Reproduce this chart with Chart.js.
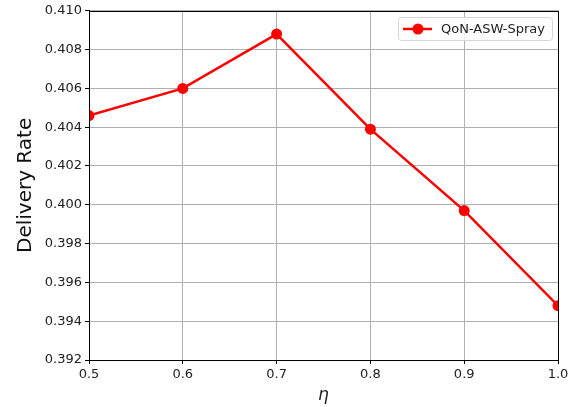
<!DOCTYPE html>
<html>
<head>
<meta charset="utf-8">
<script src="https://cdn.jsdelivr.net/npm/chart.js@4/dist/chart.umd.min.js"></script>
<style>
html,body{margin:0;padding:0;background:#fff;}
#wrap{width:579px;height:407px;position:relative;}
</style>
</head>
<body>
<div id="wrap"><canvas id="c" width="579" height="407"></canvas></div>
<script>
const etaValues = [0.5, 0.6, 0.7, 0.8, 0.9, 1.0];
const deliveryRate = [0.4046, 0.4060, 0.4088, 0.4039, 0.3997, 0.3948];
const seriesLabel = 'QoN-ASW-Spray';
const yTicks = [0.392, 0.394, 0.396, 0.398, 0.400, 0.402, 0.404, 0.406, 0.408, 0.410];
const xTicks = [0.5, 0.6, 0.7, 0.8, 0.9, 1.0];

const FONT = "'DejaVu Sans', sans-serif";

const framePlugin = {
  id: 'frame',
  afterDatasetsDraw(chart) {
    const {ctx, chartArea: a} = chart;
    ctx.save();
    ctx.strokeStyle = '#000';
    ctx.lineWidth = 1;
    ctx.strokeRect(Math.round(a.left) + 0.5, Math.round(a.top) + 0.5,
                   Math.round(a.right - a.left), Math.round(a.bottom - a.top));
    // legend
    const ds = chart.data.datasets[0];
    ctx.font = "13px " + FONT;
    const tw = ctx.measureText(ds.label).width;
    const bw = tw + 50, bh = 23;
    const bx = Math.round(a.right - 6 - bw), by = Math.round(a.top + 6);
    ctx.fillStyle = 'rgba(255,255,255,0.85)';
    ctx.strokeStyle = '#d6d6d6';
    ctx.lineWidth = 1;
    ctx.beginPath();
    if (ctx.roundRect) ctx.roundRect(bx + 0.5, by + 0.5, bw, bh, 3); else ctx.rect(bx + 0.5, by + 0.5, bw, bh);
    ctx.fill(); ctx.stroke();
    const ly = by + bh / 2 + 0.5;
    ctx.strokeStyle = ds.borderColor;
    ctx.lineWidth = 2.5;
    ctx.beginPath(); ctx.moveTo(bx + 5, ly); ctx.lineTo(bx + 34, ly); ctx.stroke();
    ctx.fillStyle = ds.backgroundColor;
    ctx.beginPath(); ctx.arc(bx + 20, ly, 5.5, 0, Math.PI * 2); ctx.fill();
    ctx.fillStyle = '#222';
    ctx.textBaseline = 'middle';
    ctx.fillText(ds.label, bx + 43, ly + 0.5);
    ctx.restore();
  }
};

new Chart(document.getElementById('c'), {
  type: 'line',
  data: {
    datasets: [{
      label: seriesLabel,
      data: etaValues.map((x, i) => ({x: x, y: deliveryRate[i]})),
      borderColor: '#ff0000',
      backgroundColor: '#ff0000',
      borderWidth: 2.5,
      pointRadius: 5.5,
      pointHoverRadius: 5.5,
      pointBorderWidth: 0,
      tension: 0,
      clip: 0
    }]
  },
  options: {
    responsive: false,
    animation: false,
    devicePixelRatio: 1,
    layout: {padding: {left: 8, top: 10, right: 21, bottom: 0}},
    plugins: {legend: {display: false}, tooltip: {enabled: false}},
    scales: {
      x: {
        type: 'linear', min: 0.5, max: 1.0,
        afterBuildTicks: s => { s.ticks = xTicks.map(v => ({value: v})); },
        afterFit: s => { s.height = 47; },
        ticks: {
          color: '#222', font: {family: FONT, size: 13}, padding: 3,
          maxRotation: 0,
          callback: v => v.toFixed(1)
        },
        grid: {color: '#b0b0b0', lineWidth: 1, tickLength: 4, tickColor: '#000', drawOnChartArea: true},
        border: {color: '#000', width: 1},
        title: {display: true, text: 'η', color: '#222', font: {family: FONT, size: 17, style: 'italic'}, padding: {top: 0, bottom: 1}}
      },
      y: {
        type: 'linear', min: 0.392, max: 0.410,
        afterBuildTicks: s => { s.ticks = yTicks.map(v => ({value: v})); },
        afterFit: s => { s.width = 81; },
        ticks: {
          color: '#222', font: {family: FONT, size: 13}, padding: 3,
          callback: v => v.toFixed(3)
        },
        grid: {color: '#b0b0b0', lineWidth: 1, tickLength: 4, tickColor: '#000'},
        border: {color: '#000', width: 1},
        title: {display: true, text: 'Delivery Rate', color: '#111', font: {family: FONT, size: 20}, padding: {top: 6, bottom: 4}}
      }
    }
  },
  plugins: [framePlugin]
});
</script>
</body>
</html>
